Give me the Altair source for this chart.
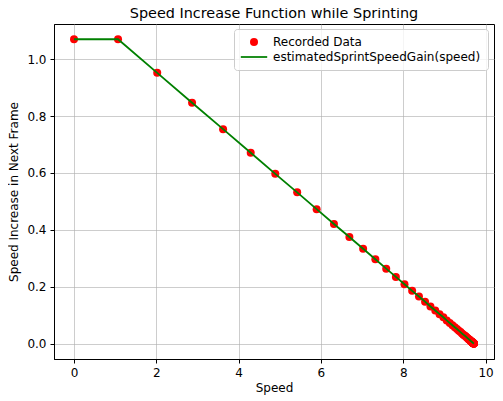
import altair as alt
import pandas as pd

speed = [0.0, 1.07, 2.022, 2.869, 3.623, 4.294, 4.891, 5.423, 5.896, 6.317,
         6.692, 7.026, 7.323, 7.587, 7.822, 8.031, 8.217, 8.383, 8.531, 8.662,
         8.779, 8.883, 8.976, 9.058, 9.131, 9.196, 9.254, 9.306, 9.352, 9.393,
         9.429, 9.461, 9.490, 9.516, 9.539, 9.559, 9.577, 9.593, 9.607, 9.620,
         9.631, 9.641, 9.650, 9.658, 9.665, 9.671, 9.677, 9.682, 9.686, 9.690,
         9.694, 9.697, 9.700, 9.702, 9.704, 9.706, 9.708, 9.710, 9.711, 9.712,
         9.713, 9.714, 9.715, 9.716, 9.717, 9.718]
gain = [1.07, 1.07, 0.952, 0.847, 0.754, 0.671, 0.597, 0.532, 0.473, 0.421,
        0.375, 0.334, 0.297, 0.264, 0.235, 0.209, 0.186, 0.166, 0.148, 0.131,
        0.117, 0.104, 0.093, 0.082, 0.073, 0.065, 0.058, 0.052, 0.046, 0.041,
        0.036, 0.032, 0.029, 0.026, 0.023, 0.020, 0.018, 0.016, 0.014, 0.013,
        0.011, 0.010, 0.009, 0.008, 0.007, 0.006, 0.006, 0.005, 0.004, 0.004,
        0.0035, 0.0032, 0.0028, 0.0025, 0.0022, 0.0020, 0.0018, 0.0016, 0.0014, 0.0012,
        0.0011, 0.0010, 0.0009, 0.0008, 0.0007, 0.0006]
series_names = ["Recorded Data", "estimatedSprintSpeedGain(speed)"]
x_ticks = [0, 2, 4, 6, 8, 10]
y_ticks = [0.0, 0.2, 0.4, 0.6, 0.8, 1.0]

df_pts = pd.DataFrame({"speed": speed, "gain": gain, "series": series_names[0]})
df_line = pd.DataFrame({"speed": speed, "gain": gain, "series": series_names[1]})

FONT = "DejaVu Sans"

xscale = alt.Scale(domain=[-0.486, 10.206], nice=False, zero=False)
yscale = alt.Scale(domain=[-0.0535, 1.1235], nice=False, zero=False)

xaxis = alt.Axis(values=x_ticks, format="d", title="Speed", grid=True,
                 gridColor="#b0b0b0", gridOpacity=0.7, gridWidth=0.9,
                 tickColor="black", tickSize=4, labelPadding=4,
                 domainColor="black", labelFont=FONT, labelFontSize=12,
                 labelColor="black", titleFont=FONT, titleFontSize=12,
                 titleFontWeight="normal", titleColor="black", titlePadding=4)
yaxis = alt.Axis(values=y_ticks, format=".1f", title="Speed Increase in Next Frame",
                 grid=True, gridColor="#b0b0b0", gridOpacity=0.7, gridWidth=0.9,
                 tickColor="black", tickSize=4, labelPadding=4,
                 domainColor="black", labelFont=FONT, labelFontSize=12,
                 labelColor="black", titleFont=FONT, titleFontSize=12,
                 titleFontWeight="normal", titleColor="black", titlePadding=6)

color_scale = alt.Scale(domain=series_names, range=["#ff0000", "#008000"])
shape_scale = alt.Scale(domain=series_names,
                        range=["circle", "M-3.3,-0.22L3.3,-0.22L3.3,0.22L-3.3,0.22Z"])

legend = alt.Legend(title=None, orient="none", legendX=180, legendY=5,
                    labelFont=FONT, labelFontSize=12, labelColor="black",
                    labelLimit=0, symbolSize=64, symbolStrokeWidth=0.5,
                    symbolOffset=7, labelOffset=13,
                    fillColor="rgba(255,255,255,0.8)", strokeColor="#cccccc",
                    cornerRadius=3, padding=7, rowPadding=3)

points = alt.Chart(df_pts).mark_point(filled=True, opacity=1, strokeWidth=0, size=64).encode(
    x=alt.X("speed:Q", scale=xscale, axis=xaxis),
    y=alt.Y("gain:Q", scale=yscale, axis=yaxis),
    color=alt.Color("series:N", scale=color_scale, legend=legend),
    shape=alt.Shape("series:N", scale=shape_scale, legend=legend),
)

line = alt.Chart(df_line).mark_line(color="#008000", strokeWidth=1.8).encode(
    x=alt.X("speed:Q", scale=xscale),
    y=alt.Y("gain:Q", scale=yscale),
)

chart = alt.layer(points, line).properties(
    width=440, height=335,
    title=alt.TitleParams("Speed Increase Function while Sprinting", font=FONT,
                          fontSize=14.4, fontWeight="normal", color="black",
                          anchor="middle", offset=3),
    autosize=alt.AutoSizeParams(type="none"),
    padding={"left": 46, "top": 16, "right": 1, "bottom": 40},
).configure_view(stroke="black", strokeWidth=1).configure_legend(strokeWidth=1)

chart.save("out.html", embed_options={"renderer": "svg", "actions": False})
